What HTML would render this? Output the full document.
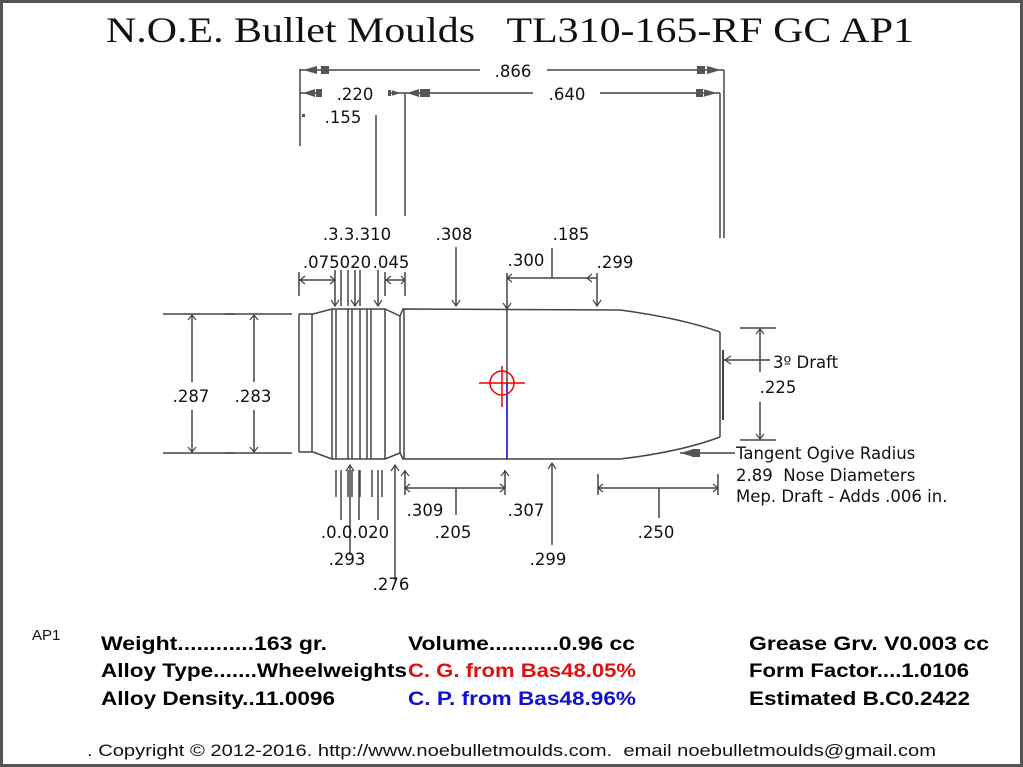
<!DOCTYPE html>
<html><head><meta charset="utf-8"><style>
html,body{margin:0;padding:0;background:#fff}
svg{display:block}
.t{font-family:"DejaVu Sans","Liberation Sans",sans-serif;font-size:16.5px;fill:#111}
.b{font-family:"Liberation Sans",sans-serif;font-size:19px;font-weight:bold;fill:#000}
</style></head><body>
<svg width="1023" height="767" viewBox="0 0 1023 767" xmlns="http://www.w3.org/2000/svg">
<rect x="1.5" y="1.5" width="1020" height="764" fill="#fff" stroke="#555" stroke-width="3"/>
<text x="106" y="42" font-family="Liberation Serif,serif" font-size="36" fill="#111" textLength="808" lengthAdjust="spacingAndGlyphs">N.O.E. Bullet Moulds&#160;&#160;&#160;TL310-165-RF GC AP1</text>
<g stroke="#444" stroke-width="1.5" fill="none">
<line x1="300" y1="69" x2="300" y2="146"/>
<line x1="300" y1="70" x2="480" y2="70"/><line x1="547" y1="70" x2="724" y2="70"/>
<line x1="724" y1="70" x2="724" y2="238"/>
<line x1="300" y1="93" x2="322" y2="93"/>
<line x1="388" y1="93" x2="403" y2="93"/><line x1="403" y1="93" x2="533" y2="93"/><line x1="600" y1="93" x2="720" y2="93"/>
<line x1="405" y1="93" x2="405" y2="216"/>
<line x1="720" y1="93" x2="720" y2="238"/>
<line x1="376" y1="115" x2="376" y2="216"/>
<line x1="299" y1="272" x2="299" y2="296"/><line x1="299" y1="280" x2="335" y2="280"/>
<line x1="335" y1="270" x2="335" y2="306"/><line x1="341" y1="270" x2="341" y2="306"/>
<line x1="348" y1="270" x2="348" y2="306"/><line x1="355" y1="270" x2="355" y2="306"/>
<line x1="360" y1="270" x2="360" y2="306"/><line x1="378" y1="270" x2="378" y2="306"/>
<line x1="385" y1="272" x2="385" y2="296"/><line x1="385" y1="280" x2="405" y2="280"/>
<line x1="405" y1="272" x2="405" y2="296"/>
<line x1="456" y1="247" x2="456" y2="306"/>
<line x1="507" y1="273" x2="507" y2="309"/><line x1="507" y1="278" x2="597" y2="278"/>
<line x1="597" y1="273" x2="597" y2="306"/><line x1="552" y1="248" x2="552" y2="278"/>
<path d="M299 314 L313 314 L332 309 L335 309"/>
<path d="M299 452 L313 452 L332 459 L335 459"/>
<line x1="299" y1="314" x2="299" y2="452"/>
<line x1="312" y1="314" x2="312" y2="452"/>
<line x1="332" y1="309" x2="332" y2="459"/>
<line x1="336" y1="309" x2="336" y2="459"/>
<path d="M335 309 L385 309 L400 316 L403 309 L620 310"/>
<path d="M335 459 L385 459 L400 453 L403 459 L620 459"/>
<line x1="348" y1="309" x2="348" y2="459"/><line x1="352" y1="309" x2="352" y2="459"/>
<line x1="360" y1="309" x2="360" y2="459"/><line x1="367" y1="309" x2="367" y2="459"/>
<line x1="371" y1="309" x2="371" y2="459"/><line x1="385" y1="309" x2="385" y2="459"/>
<line x1="400" y1="316" x2="400" y2="453"/>
<line x1="404" y1="309" x2="404" y2="459"/>
<path d="M620 310 Q680 318 720 332"/>
<path d="M620 459 Q680 452 720 437"/>
<line x1="720" y1="332" x2="720" y2="437"/>
<line x1="723" y1="350" x2="723" y2="420" stroke-width="2"/>
<line x1="507" y1="309" x2="507" y2="383"/>
<line x1="163" y1="314" x2="234" y2="314"/><line x1="163" y1="453" x2="234" y2="453"/>
<line x1="225" y1="314" x2="292" y2="314"/><line x1="225" y1="453" x2="292" y2="453"/>
<line x1="192" y1="316" x2="192" y2="382"/><line x1="192" y1="410" x2="192" y2="451"/>
<line x1="254" y1="316" x2="254" y2="382"/><line x1="254" y1="410" x2="254" y2="451"/>
<line x1="740" y1="328" x2="776" y2="328"/><line x1="740" y1="440" x2="776" y2="440"/>
<line x1="760" y1="330" x2="760" y2="372"/><line x1="760" y1="402" x2="760" y2="438"/>
<line x1="724" y1="360" x2="770" y2="360"/>
<line x1="680" y1="453" x2="735" y2="453"/>
<line x1="336" y1="470" x2="336" y2="497"/><line x1="341" y1="470" x2="341" y2="520"/>
<line x1="348" y1="470" x2="348" y2="497"/><line x1="352" y1="470" x2="352" y2="497"/>
<line x1="360" y1="470" x2="360" y2="497"/><line x1="359" y1="470" x2="359" y2="520"/>
<line x1="372" y1="470" x2="372" y2="497"/><line x1="378" y1="470" x2="378" y2="520"/>
<line x1="382" y1="470" x2="382" y2="497"/>
<line x1="350" y1="465" x2="350" y2="555"/>
<line x1="395" y1="465" x2="395" y2="580"/>
<line x1="405" y1="470" x2="405" y2="495"/><line x1="405" y1="488" x2="505" y2="488"/>
<line x1="505" y1="470" x2="505" y2="495"/><line x1="456" y1="488" x2="456" y2="515"/>
<line x1="552" y1="463" x2="552" y2="545"/>
<line x1="598" y1="474" x2="598" y2="495"/><line x1="598" y1="488" x2="718" y2="488"/>
<line x1="718" y1="474" x2="718" y2="495"/><line x1="659" y1="488" x2="659" y2="518"/>
</g>
<g fill="#555">
<path d="M303 70 l14 -4 v8z M321 66 h8 v8 h-8z"/>
<path d="M721 70 l-14 -4 v8z M697 66 h8 v8 h-8z"/>
<path d="M303 93 l12 -4 v8z M316 89 h6 v8 h-6z"/>
<path d="M401 93 l-10 -3 v6z M388 90 h4 v6 h-4z"/>
<path d="M407 93 l12 -4 v8z M420 89 h10 v8 h-10z"/>
<path d="M717 93 l-14 -4 v8z M696 89 h8 v8 h-8z"/>
<rect x="302" y="114" width="3" height="3"/>
<path d="M680 453 l14 -4 v8z M692 449 h8 v8 h-8z"/>
</g>
<g stroke="#444" stroke-width="1.2" fill="none">
<path d="M452 300 l4 6 l4 -6 M503 303 l4 6 l4 -6 M593 300 l4 6 l4 -6"/>
<path d="M331 300 l4 6 l4 -6 M351 300 l4 6 l4 -6 M374 300 l4 6 l4 -6"/>
<path d="M305 276 l-5 4 l5 4 M330 276 l5 4 l-5 4 M391 276 l-5 4 l5 4 M401 276 l4 4 l-4 4"/>
<path d="M512 274 l-5 4 l5 4 M592 274 l-5 4 l5 4"/>
<path d="M188 320 l4 -5 l4 5 M188 447 l4 5 l4 -5 M250 320 l4 -5 l4 5 M250 447 l4 5 l4 -5"/>
<path d="M756 334 l4 -5 l4 5 M756 434 l4 5 l4 -5 M731 356 l-6 4 l6 4"/>
<path d="M410 484 l-5 4 l5 4 M500 484 l5 4 l-5 4 M401 476 l4 -5 l4 5 M501 476 l4 -5 l4 5"/>
<path d="M603 484 l-5 4 l5 4 M713 484 l5 4 l-5 4 M548 469 l4 -6 l4 6 M391 471 l4 -6 l4 6 M346 471 l4 -6 l4 6"/>
</g>
<line x1="507" y1="383" x2="507" y2="459" stroke="#00c" stroke-width="1.5"/>
<g stroke="#e00" stroke-width="1.5" fill="none">
<circle cx="502" cy="383" r="12"/>
<line x1="479" y1="383" x2="525" y2="383"/><line x1="502" y1="366" x2="502" y2="407"/>
</g>
<text class="t" x="513" y="77" text-anchor="middle">.866</text>
<text class="t" x="355" y="100" text-anchor="middle">.220</text>
<text class="t" x="567" y="100" text-anchor="middle">.640</text>
<text class="t" x="343" y="123" text-anchor="middle">.155</text>
<text class="t" x="357" y="240" text-anchor="middle">.3.3.310</text>
<text class="t" x="454" y="240" text-anchor="middle">.308</text>
<text class="t" x="571" y="240" text-anchor="middle">.185</text>
<text class="t" x="337" y="268" text-anchor="middle">.075020</text>
<text class="t" x="391" y="268" text-anchor="middle">.045</text>
<text class="t" x="526" y="266" text-anchor="middle">.300</text>
<text class="t" x="615" y="268" text-anchor="middle">.299</text>
<text class="t" x="191" y="402" text-anchor="middle">.287</text>
<text class="t" x="253" y="402" text-anchor="middle">.283</text>
<text class="t" x="773" y="368">3º Draft</text>
<text class="t" x="778" y="393" text-anchor="middle">.225</text>
<text class="t" x="736" y="459">Tangent Ogive Radius</text>
<text class="t" x="736" y="481">2.89&#160; Nose Diameters</text>
<text class="t" x="736" y="502">Mep. Draft - Adds .006 in.</text>
<text class="t" x="425" y="516" text-anchor="middle">.309</text>
<text class="t" x="526" y="516" text-anchor="middle">.307</text>
<text class="t" x="453" y="538" text-anchor="middle">.205</text>
<text class="t" x="656" y="538" text-anchor="middle">.250</text>
<text class="t" x="355" y="538" text-anchor="middle">.0.0.020</text>
<text class="t" x="347" y="565" text-anchor="middle">.293</text>
<text class="t" x="548" y="565" text-anchor="middle">.299</text>
<text class="t" x="391" y="590" text-anchor="middle">.276</text>
<text x="32" y="640" font-family="Liberation Sans,sans-serif" font-size="15" fill="#111">AP1</text>
<text class="b" x="101" y="650" textLength="226" lengthAdjust="spacingAndGlyphs">Weight............163 gr.</text>
<text class="b" x="101" y="677" textLength="306" lengthAdjust="spacingAndGlyphs">Alloy Type.......Wheelweights</text>
<text class="b" x="101" y="705" textLength="234" lengthAdjust="spacingAndGlyphs">Alloy Density..11.0096</text>
<text class="b" x="408" y="650" textLength="227" lengthAdjust="spacingAndGlyphs">Volume...........0.96 cc</text>
<text class="b" x="408" y="677" style="fill:#e01010" textLength="228" lengthAdjust="spacingAndGlyphs">C. G. from Bas48.05%</text>
<text class="b" x="408" y="705" style="fill:#1010d0" textLength="228" lengthAdjust="spacingAndGlyphs">C. P. from Bas48.96%</text>
<text class="b" x="749" y="650" textLength="240" lengthAdjust="spacingAndGlyphs">Grease Grv. V0.003 cc</text>
<text class="b" x="749" y="677" textLength="220" lengthAdjust="spacingAndGlyphs">Form Factor....1.0106</text>
<text class="b" x="749" y="705" textLength="221" lengthAdjust="spacingAndGlyphs">Estimated B.C0.2422</text>
<text x="87" y="756" font-family="Liberation Sans,sans-serif" font-size="17" fill="#111" textLength="849" lengthAdjust="spacingAndGlyphs">. Copyright © 2012-2016. http://www.noebulletmoulds.com.&#160; email noebulletmoulds@gmail.com</text>
</svg>
</body></html>
